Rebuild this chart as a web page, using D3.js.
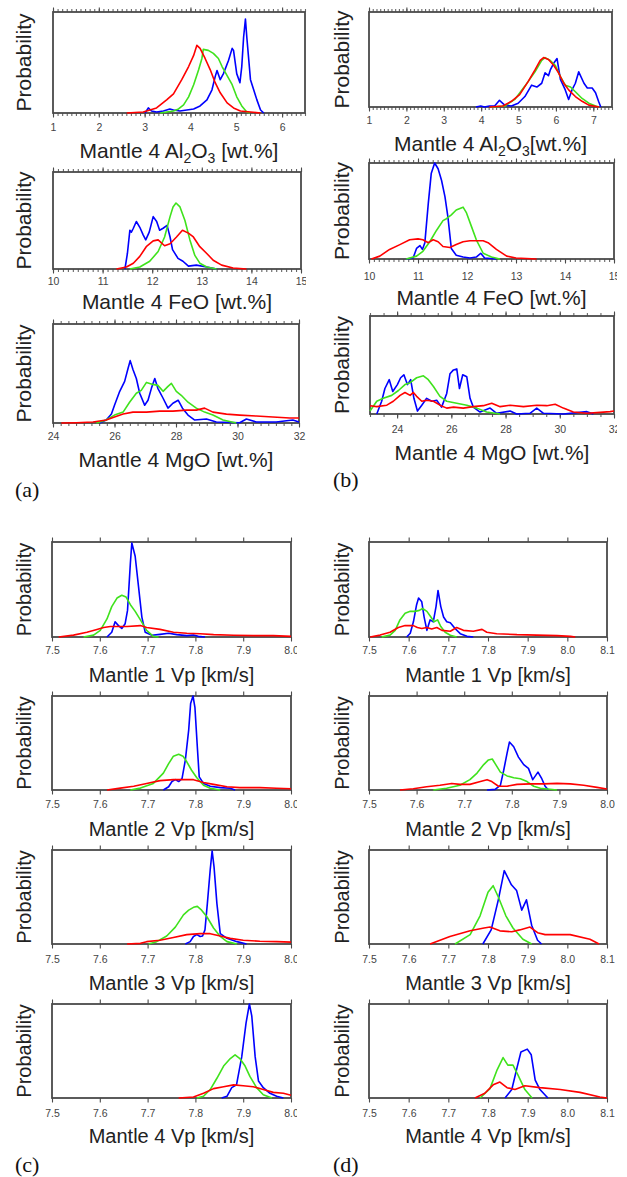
<!DOCTYPE html>
<html>
<head>
<meta charset="utf-8">
<script src="https://cdn.jsdelivr.net/npm/d3@7"></script>
<style>
	body { margin: 0; background: #fff; }
	svg { display: block; }
</style>
</head>
<body>
<svg id="chart" width="627" height="1177"></svg>
<script>
// tick labels
const al2o3TicksA = [1, 2, 3, 4, 5, 6];
const al2o3TicksB = [1, 2, 3, 4, 5, 6, 7];
const feoTicks = [10, 11, 12, 13, 14, 15];
const mgoTicks = [24, 26, 28, 30, 32];
const vpTicks80 = [7.5, 7.6, 7.7, 7.8, 7.9, 8.0];
const vpTicks81 = [7.5, 7.6, 7.7, 7.8, 7.9, 8.0, 8.1];

// (a) Mantle 4 Al2O3
const a1Blue = [[3.01,0],[3.08,.05],[3.15,.02],[3.26,.01],[3.41,.02],[3.55,.04],[3.63,.03],[3.77,.02],[3.92,.03],[4.07,.04],[4.21,.07],[4.36,.13],[4.47,.23],[4.54,.36],[4.58,.42],[4.65,.33],[4.72,.39],[4.83,.52],[4.91,.64],[4.94,.62],[5.01,.39],[5.08,.30],[5.12,.46],[5.16,.75],[5.20,.93],[5.23,.75],[5.31,.33],[5.38,.23],[5.45,.13],[5.53,.03],[5.60,0]];
const a1Green = [[3.34,0],[3.63,.02],[3.74,.04],[3.85,.08],[3.96,.16],[4.07,.28],[4.18,.43],[4.25,.54],[4.28,.63],[4.39,.62],[4.50,.59],[4.61,.54],[4.69,.46],[4.80,.37],[4.91,.28],[5.01,.16],[5.12,.07],[5.23,.01],[5.30,0]];
const a1Red = [[2.61,0],[2.97,.01],[3.26,.05],[3.48,.13],[3.63,.19],[3.81,.33],[3.96,.46],[4.07,.57],[4.14,.67],[4.21,.64],[4.32,.54],[4.43,.43],[4.54,.30],[4.65,.20],[4.80,.10],[4.94,.05],[5.09,.02],[5.31,.01],[5.53,0]];

// (a) Mantle 4 FeO
const a2Blue = [[11.45,0],[11.50,.16],[11.55,.40],[11.58,.38],[11.62,.42],[11.68,.49],[11.75,.43],[11.82,.35],[11.87,.30],[11.94,.38],[12.02,.54],[12.09,.49],[12.15,.40],[12.22,.42],[12.30,.45],[12.36,.33],[12.41,.20],[12.52,.11],[12.62,.08],[12.73,.03],[12.89,.04],[13.10,.02],[13.30,0]];
const a2Green = [[11.55,0],[11.75,.02],[11.95,.08],[12.12,.18],[12.25,.33],[12.36,.54],[12.42,.64],[12.48,.68],[12.56,.64],[12.66,.50],[12.76,.30],[12.86,.14],[12.96,.06],[13.10,.02],[13.30,0]];
const a2Red = [[11.28,0],[11.48,.02],[11.62,.06],[11.75,.13],[11.88,.23],[12.02,.29],[12.12,.30],[12.25,.24],[12.36,.26],[12.49,.33],[12.61,.40],[12.73,.37],[12.83,.33],[12.96,.23],[13.10,.16],[13.23,.09],[13.40,.04],[13.63,.01],[13.90,0]];

// (a) Mantle 4 MgO
const a3Blue = [[25.52,0],[25.73,.03],[25.90,.09],[26.00,.18],[26.17,.32],[26.33,.42],[26.44,.55],[26.51,.63],[26.60,.54],[26.71,.45],[26.82,.30],[26.98,.18],[27.09,.23],[27.20,.35],[27.31,.45],[27.41,.35],[27.58,.25],[27.74,.15],[27.90,.20],[28.07,.23],[28.21,.15],[28.39,.08],[28.61,.03],[28.99,.04],[29.31,.01],[30.07,.003],[30.29,.04],[30.61,.01],[31.26,.01],[31.80,.03],[32,.01]];
const a3Green = [[25.41,0],[25.73,.03],[26.00,.08],[26.28,.11],[26.49,.21],[26.71,.30],[26.87,.33],[27.04,.41],[27.25,.39],[27.41,.38],[27.58,.32],[27.74,.37],[27.85,.40],[28.01,.32],[28.17,.28],[28.39,.21],[28.66,.15],[28.93,.11],[29.20,.08],[29.53,.03],[29.96,0]];
const a3Red = [[24.27,0],[24.76,.003],[25.30,.01],[25.73,.03],[26.00,.06],[26.28,.09],[26.60,.11],[27.04,.11],[27.47,.12],[27.90,.12],[28.34,.13],[28.66,.13],[28.93,.15],[29.20,.11],[29.64,.09],[30.07,.08],[30.61,.07],[31.15,.06],[31.70,.05],[32,.05]];

// (b) Mantle 4 Al2O3
const b1Blue = [[3.86,0],[3.99,.01],[4.09,0],[4.22,.01],[4.36,.01],[4.49,.07],[4.63,.02],[4.81,.01],[4.99,.04],[5.17,.11],[5.35,.23],[5.49,.21],[5.62,.25],[5.71,.36],[5.80,.33],[5.85,.39],[5.94,.46],[6.03,.51],[6.12,.29],[6.25,.18],[6.34,.08],[6.43,.18],[6.52,.25],[6.61,.37],[6.75,.25],[6.84,.20],[6.97,.20],[7.06,.15],[7.14,.06],[7.20,0]];
const b1Green = [[4.27,0],[4.63,.01],[4.90,.08],[5.17,.22],[5.44,.37],[5.62,.49],[5.71,.52],[5.85,.49],[5.98,.44],[6.12,.32],[6.25,.23],[6.39,.21],[6.52,.16],[6.70,.09],[6.88,.04],[7.06,.01],[7.15,0]];
const b1Red = [[4.22,0],[4.58,.01],[4.81,.06],[5.03,.13],[5.26,.27],[5.44,.39],[5.58,.49],[5.67,.52],[5.80,.50],[5.94,.44],[6.07,.36],[6.21,.25],[6.34,.18],[6.52,.11],[6.70,.06],[6.88,.02],[7.15,0]];

// (b) Mantle 4 FeO
const b2Blue = [[10.76,0],[10.90,.01],[10.97,.11],[11.04,.14],[11.09,.10],[11.14,.17],[11.21,.58],[11.27,.89],[11.34,1],[11.41,.94],[11.48,.82],[11.55,.65],[11.61,.44],[11.68,.11],[11.78,.04],[11.92,.02],[12.06,.01],[12.19,.02],[12.28,.06],[12.36,.01],[12.60,0]];
const b2Green = [[10.76,0],[10.97,.03],[11.10,.08],[11.24,.18],[11.38,.30],[11.51,.40],[11.58,.42],[11.68,.46],[11.78,.51],[11.92,.54],[11.99,.48],[12.09,.34],[12.19,.20],[12.33,.06],[12.50,.02],[12.67,0]];
const b2Red = [[10.05,0],[10.22,.03],[10.42,.10],[10.63,.15],[10.83,.20],[11.00,.21],[11.10,.20],[11.21,.17],[11.31,.20],[11.41,.18],[11.51,.13],[11.65,.12],[11.78,.15],[11.92,.18],[12.06,.19],[12.33,.19],[12.43,.17],[12.60,.10],[12.81,.03],[13.00,.01],[13.42,0]];

// (b) Mantle 4 MgO
const b3Blue = [[23.25,0],[23.43,.13],[23.55,.26],[23.71,.35],[23.84,.23],[24.01,.30],[24.13,.37],[24.25,.40],[24.38,.30],[24.50,.35],[24.62,.16],[24.75,.03],[24.91,.09],[25.09,.16],[25.28,.13],[25.46,.14],[25.64,.07],[25.83,.21],[25.95,.41],[26.08,.45],[26.20,.46],[26.30,.26],[26.42,.40],[26.57,.38],[26.69,.16],[26.81,.07],[27.06,.02],[27.43,.06],[27.67,.007],[28.17,.03],[28.41,0],[28.90,.007],[29.15,.06],[29.40,.007],[30.13,0],[31.00,.024],[31.24,0]];
const b3Green = [[23,.03],[23.25,.13],[23.49,.16],[23.80,.19],[24.05,.24],[24.29,.30],[24.48,.32],[24.72,.37],[24.97,.39],[25.15,.35],[25.34,.28],[25.58,.18],[25.83,.13],[26.20,.11],[26.57,.09],[26.94,.06],[27.30,.02],[27.80,0]];
const b3Red = [[23,.085],[23.25,.075],[23.62,.09],[23.86,.13],[24.11,.19],[24.29,.22],[24.48,.19],[24.60,.22],[24.72,.18],[24.91,.13],[25.09,.14],[25.34,.13],[25.58,.09],[25.83,.06],[26.08,.07],[26.44,.06],[26.81,.075],[27.18,.085],[27.49,.11],[27.80,.075],[28.17,.09],[28.66,.075],[29.15,.09],[29.52,.085],[29.83,.10],[30.13,.06],[30.50,.02],[31.00,.007],[31.49,.017],[31.86,.024],[32,.03]];

// (c) Vp, inverted without composition
const c1Blue = [[7.615,0],[7.625,.05],[7.632,.16],[7.639,.12],[7.646,.09],[7.653,.14],[7.658,.28],[7.664,.78],[7.667,.99],[7.674,.85],[7.681,.53],[7.688,.21],[7.695,.05],[7.709,.018],[7.726,.028],[7.744,.04],[7.761,.025],[7.782,.014],[7.796,.021],[7.806,.007],[7.820,0]];
const c1Green = [[7.566,0],[7.587,.02],[7.601,.07],[7.615,.19],[7.625,.32],[7.636,.41],[7.646,.44],[7.655,.42],[7.664,.34],[7.674,.27],[7.685,.18],[7.698,.07],[7.712,.007],[7.723,0]];
const c1Red = [[7.514,0],[7.545,.02],[7.573,.05],[7.594,.08],[7.608,.10],[7.622,.11],[7.657,.11],[7.685,.12],[7.698,.10],[7.726,.08],[7.754,.05],[7.782,.04],[7.810,.035],[7.838,.025],[7.880,.018],[7.921,.014],[7.963,.014],[8.0,.007]];

const c2Blue = [[7.733,0],[7.744,.035],[7.751,.09],[7.758,.11],[7.765,.09],[7.772,.12],[7.779,.32],[7.786,.64],[7.790,.92],[7.795,1],[7.799,.88],[7.804,.46],[7.808,.14],[7.817,.07],[7.831,.04],[7.852,.025],[7.873,.018],[7.883,0]];
const c2Green = [[7.664,0],[7.685,.02],[7.712,.07],[7.733,.18],[7.744,.28],[7.754,.36],[7.765,.38],[7.774,.36],[7.782,.30],[7.792,.21],[7.803,.13],[7.817,.05],[7.831,.018],[7.852,0]];
const c2Red = [[7.615,0],[7.643,.02],[7.671,.04],[7.698,.07],[7.726,.10],[7.754,.11],[7.775,.11],[7.796,.11],[7.817,.08],[7.838,.06],[7.866,.035],[7.893,.025],[7.935,.025],[7.970,.018],[8.0,.014]];

const c3Blue = [[7.779,0],[7.789,.025],[7.796,.08],[7.803,.10],[7.810,.08],[7.815,.085],[7.820,.15],[7.825,.43],[7.831,.79],[7.835,.99],[7.839,.82],[7.845,.43],[7.852,.11],[7.866,.06],[7.887,.025],[7.907,0]];
const c3Green = [[7.702,0],[7.719,.025],[7.740,.085],[7.758,.18],[7.775,.31],[7.786,.36],[7.796,.39],[7.804,.40],[7.813,.36],[7.824,.29],[7.838,.17],[7.852,.08],[7.866,.025],[7.887,0]];
const c3Red = [[7.657,0],[7.685,.007],[7.698,.025],[7.726,.04],[7.754,.07],[7.782,.10],[7.810,.11],[7.831,.11],[7.852,.085],[7.873,.06],[7.900,.04],[7.935,.03],[7.970,.025],[8.0,.02]];

const c4Blue = [[7.855,0],[7.866,.018],[7.876,.11],[7.886,.14],[7.897,.44],[7.906,.80],[7.913,1],[7.918,.87],[7.925,.44],[7.932,.18],[7.942,.11],[7.956,.05],[7.970,.018],[7.984,0]];
const c4Green = [[7.803,0],[7.817,.018],[7.831,.09],[7.845,.21],[7.859,.34],[7.873,.42],[7.883,.46],[7.893,.42],[7.904,.34],[7.914,.23],[7.928,.11],[7.942,.035],[7.960,0]];
const c4Red = [[7.765,0],[7.796,.01],[7.817,.05],[7.838,.10],[7.859,.12],[7.880,.14],[7.900,.13],[7.921,.12],[7.942,.09],[7.963,.06],[7.984,.05],[8.0,.03]];

// (d) Vp, inverted with composition
const d1Blue = [[7.595,0],[7.604,.04],[7.612,.16],[7.620,.34],[7.625,.41],[7.633,.37],[7.639,.21],[7.646,.07],[7.654,.18],[7.662,.16],[7.669,.32],[7.674,.49],[7.681,.32],[7.688,.21],[7.696,.16],[7.705,.15],[7.717,.09],[7.730,.035],[7.747,.007],[7.763,0]];
const d1Green = [[7.532,0],[7.553,.02],[7.566,.07],[7.578,.18],[7.591,.25],[7.604,.27],[7.616,.27],[7.627,.28],[7.635,.30],[7.646,.27],[7.656,.21],[7.664,.16],[7.673,.18],[7.681,.11],[7.692,.05],[7.705,.018],[7.721,0]];
const d1Red = [[7.503,0],[7.528,.02],[7.553,.05],[7.574,.10],[7.591,.12],[7.604,.12],[7.612,.12],[7.622,.10],[7.633,.09],[7.646,.10],[7.658,.085],[7.671,.10],[7.684,.07],[7.705,.06],[7.721,.10],[7.738,.07],[7.763,.06],[7.785,.08],[7.797,.05],[7.822,.035],[7.873,.025],[7.923,.02],[7.974,.014],[8.008,.007],[8.02,0]];

const d2Blue = [[7.748,0],[7.765,.007],[7.776,.05],[7.783,.21],[7.790,.39],[7.795,.51],[7.804,.46],[7.814,.35],[7.825,.27],[7.835,.23],[7.844,.11],[7.855,.19],[7.863,.12],[7.870,.04],[7.877,0]];
const d2Green = [[7.635,0],[7.663,.018],[7.691,.05],[7.712,.11],[7.727,.18],[7.741,.27],[7.751,.32],[7.759,.33],[7.765,.28],[7.776,.19],[7.790,.15],[7.804,.13],[7.818,.12],[7.832,.09],[7.846,.04],[7.860,.018],[7.895,0]];
const d2Red = [[7.565,0],[7.593,.014],[7.621,.035],[7.649,.05],[7.674,.07],[7.691,.06],[7.712,.06],[7.734,.09],[7.748,.11],[7.758,.09],[7.772,.04],[7.790,.04],[7.811,.06],[7.839,.065],[7.867,.065],[7.895,.07],[7.923,.065],[7.951,.05],[7.979,.028],[8.0,.01]];

const d3Blue = [[7.787,0],[7.808,.15],[7.826,.47],[7.841,.78],[7.859,.63],[7.872,.57],[7.885,.36],[7.897,.47],[7.910,.20],[7.925,.04],[7.935,0]];
const d3Green = [[7.717,0],[7.755,.10],[7.780,.30],[7.800,.55],[7.813,.62],[7.826,.50],[7.845,.30],[7.863,.17],[7.888,.05],[7.910,0]];
const d3Red = [[7.654,0],[7.704,.08],[7.755,.14],[7.790,.17],[7.805,.18],[7.830,.14],[7.860,.13],[7.880,.15],[7.906,.18],[7.925,.12],[7.944,.10],[8.007,.10],[8.057,.05],[8.080,0]];

const d4Blue = [[7.843,0],[7.860,.09],[7.873,.32],[7.883,.49],[7.899,.52],[7.909,.46],[7.919,.19],[7.931,.09],[7.951,0]];
const d4Green = [[7.780,0],[7.805,.10],[7.823,.30],[7.838,.43],[7.850,.35],[7.863,.35],[7.876,.24],[7.893,.09],[7.911,0]];
const d4Red = [[7.767,0],[7.792,.05],[7.813,.14],[7.830,.17],[7.848,.11],[7.868,.09],[7.893,.13],[7.931,.11],[7.982,.09],[8.032,.06],[8.082,.01],[8.1,0]];

const seriesColors = ['#0000ff', '#3fe21c', '#ff0000'];

const al2o3Title = [['Mantle 4 Al'], ['2', 1], ['O'], ['3', 1], [' [wt.%]']];
const al2o3TitleB = [['Mantle 4 Al'], ['2', 1], ['O'], ['3', 1], ['[wt.%]']];

const panels = [
	{l: 53, t: 12, r: 305, b: 113, domain: [1, 6.5], ticks: al2o3TicksA, minor: 0.1, clip: 307, tickY: 131, titleY: 158, probX: 31, title: al2o3Title, series: [a1Blue, a1Green, a1Red]},
	{l: 53, t: 172, r: 301, b: 269, domain: [10, 15], ticks: feoTicks, minor: 0.1, clip: 306, tickY: 285, titleY: 309, probX: 31, title: [['Mantle 4 FeO [wt.%]']], series: [a2Blue, a2Green, a2Red]},
	{l: 53, t: 324, r: 299, b: 423, domain: [24, 32], ticks: mgoTicks, minor: 0.25, clip: 306, tickY: 440, titleY: 467, probX: 31, title: [['Mantle 4 MgO [wt.%]']], series: [a3Blue, a3Green, a3Red]},
	{l: 369, t: 12, r: 612, b: 107, domain: [1, 7.5], ticks: al2o3TicksB, minor: 0.1, clip: 616, tickY: 124, titleY: 151, probX: 349, title: al2o3TitleB, series: [b1Blue, b1Green, b1Red]},
	{l: 369, t: 163, r: 614, b: 259, domain: [10, 15], ticks: feoTicks, minor: 0.1, clip: 617, tickY: 280, titleY: 305, probX: 349, title: [['Mantle 4 FeO [wt.%]']], series: [b2Blue, b2Green, b2Red]},
	{l: 370, t: 316, r: 614, b: 414, domain: [23, 32], ticks: mgoTicks, minor: 0.5, clip: 617, tickY: 433, titleY: 460, probX: 349, title: [['Mantle 4 MgO [wt.%]']], series: [b3Blue, b3Green, b3Red]},
	{l: 52, t: 542, r: 291, b: 637, domain: [7.5, 8.0], ticks: vpTicks80, clip: 297, tickY: 654, titleY: 682, probX: 31, title: [['Mantle 1 Vp [km/s]']], series: [c1Blue, c1Green, c1Red]},
	{l: 52, t: 696, r: 291, b: 790, domain: [7.5, 8.0], ticks: vpTicks80, clip: 297, tickY: 808, titleY: 836, probX: 31, title: [['Mantle 2 Vp [km/s]']], series: [c2Blue, c2Green, c2Red]},
	{l: 52, t: 850, r: 291, b: 944, domain: [7.5, 8.0], ticks: vpTicks80, clip: 297, tickY: 963, titleY: 990, probX: 31, title: [['Mantle 3 Vp [km/s]']], series: [c3Blue, c3Green, c3Red]},
	{l: 52, t: 1004, r: 291, b: 1098, domain: [7.5, 8.0], ticks: vpTicks80, clip: 297, tickY: 1117, titleY: 1143, probX: 31, title: [['Mantle 4 Vp [km/s]']], series: [c4Blue, c4Green, c4Red]},
	{l: 369, t: 542, r: 607, b: 637, domain: [7.5, 8.1], ticks: vpTicks81, clip: 617, tickY: 654, titleY: 682, probX: 349, title: [['Mantle 1 Vp [km/s]']], series: [d1Blue, d1Green, d1Red]},
	{l: 369, t: 696, r: 607, b: 790, domain: [7.5, 8.0], ticks: vpTicks80, clip: 615, tickY: 808, titleY: 836, probX: 349, title: [['Mantle 2 Vp [km/s]']], series: [d2Blue, d2Green, d2Red]},
	{l: 369, t: 850, r: 607, b: 944, domain: [7.5, 8.1], ticks: vpTicks81, clip: 620, tickY: 963, titleY: 990, probX: 349, title: [['Mantle 3 Vp [km/s]']], series: [d3Blue, d3Green, d3Red]},
	{l: 369, t: 1004, r: 607, b: 1098, domain: [7.5, 8.1], ticks: vpTicks81, clip: 620, tickY: 1117, titleY: 1143, probX: 349, title: [['Mantle 4 Vp [km/s]']], series: [d4Blue, d4Green, d4Red]}
];

const letters = [
	{text: '(a)', x: 15, y: 497},
	{text: '(b)', x: 333, y: 487},
	{text: '(c)', x: 15, y: 1172},
	{text: '(d)', x: 333, y: 1172}
];

const svg = d3.select('#chart');
const SANS = 'Liberation Sans, Arial, Helvetica, sans-serif';

function drawPanel(p, i) {
	const isVp = !p.minor;
	const x = d3.scaleLinear().domain(p.domain).range([p.l, p.r]);
	const y = d3.scaleLinear().domain([0, 1]).range([p.b, p.t]);
	const fmt = isVp ? d3.format('.1f') : d3.format('d');
	const fontSize = isVp ? 20 : 21;

	svg.append('clipPath').attr('id', 'clip' + i)
		.append('rect').attr('x', 0).attr('y', p.t - 20).attr('width', p.clip).attr('height', p.b - p.t + 80);

	const g = svg.append('g').attr('clip-path', `url(#clip${i})`);

	if (p.minor) {
		const minorTicks = d3.range(p.domain[0], p.domain[1] + 1e-6, p.minor);
		g.append('g').attr('class', 'minor').attr('transform', `translate(0,${p.b})`)
			.call(d3.axisBottom(x).tickValues(minorTicks).tickSize(3).tickFormat(''));
		g.append('g').attr('class', 'minor').attr('transform', `translate(0,${p.t})`)
			.call(d3.axisTop(x).tickValues(minorTicks).tickSize(3).tickFormat(''));
	}

	const bottom = g.append('g').attr('transform', `translate(0,${p.b})`)
		.call(d3.axisBottom(x).tickValues(p.ticks).tickSize(4.5).tickFormat(fmt));
	g.append('g').attr('transform', `translate(0,${p.t})`)
		.call(d3.axisTop(x).tickValues(p.ticks).tickSize(4.5).tickFormat(''));

	g.selectAll('.domain').remove();
	g.selectAll('.tick line').attr('stroke', '#4a4a4a').attr('stroke-width', 1.1);
	g.selectAll('.minor .tick line').attr('stroke', '#666');
	bottom.selectAll('text')
		.attr('y', p.tickY - p.b)
		.attr('dy', null)
		.attr('fill', '#444')
		.attr('font-size', 10.5)
		.attr('font-family', SANS);

	g.append('rect')
		.attr('x', p.l).attr('y', p.t)
		.attr('width', p.r - p.l).attr('height', p.b - p.t)
		.attr('fill', 'none')
		.attr('stroke', '#4a4a4a')
		.attr('stroke-width', 1.8);

	const line = d3.line().x(d => x(d[0])).y(d => y(d[1]));
	g.append('g').selectAll('path')
		.data(p.series)
		.join('path')
		.attr('d', line)
		.attr('fill', 'none')
		.attr('stroke', (d, k) => seriesColors[k])
		.attr('stroke-width', 1.6)
		.attr('stroke-linejoin', 'round');

	const title = g.append('text')
		.attr('x', (p.l + p.r) / 2)
		.attr('y', p.titleY)
		.attr('text-anchor', 'middle')
		.attr('font-family', SANS)
		.attr('font-size', fontSize)
		.attr('fill', '#222');
	let shifted = false;
	p.title.forEach(([txt, sub]) => {
		const ts = title.append('tspan').text(txt);
		if (sub && !shifted) {
			ts.attr('font-size', 14).attr('dy', 5);
			shifted = true;
		} else if (!sub && shifted) {
			ts.attr('dy', -5);
			shifted = false;
		} else if (sub) {
			ts.attr('font-size', 14);
		}
	});

	svg.append('text')
		.attr('transform', `translate(${p.probX},${(p.t + p.b) / 2}) rotate(-90)`)
		.attr('text-anchor', 'middle')
		.attr('font-family', SANS)
		.attr('font-size', fontSize)
		.attr('fill', '#222')
		.text('Probability');
}

panels.forEach(drawPanel);

svg.selectAll('.letter')
	.data(letters)
	.join('text')
	.attr('class', 'letter')
	.attr('x', d => d.x)
	.attr('y', d => d.y)
	.attr('font-family', 'Liberation Serif, Times New Roman, serif')
	.attr('font-size', 22)
	.attr('fill', '#111')
	.text(d => d.text);
</script>
</body>
</html>
